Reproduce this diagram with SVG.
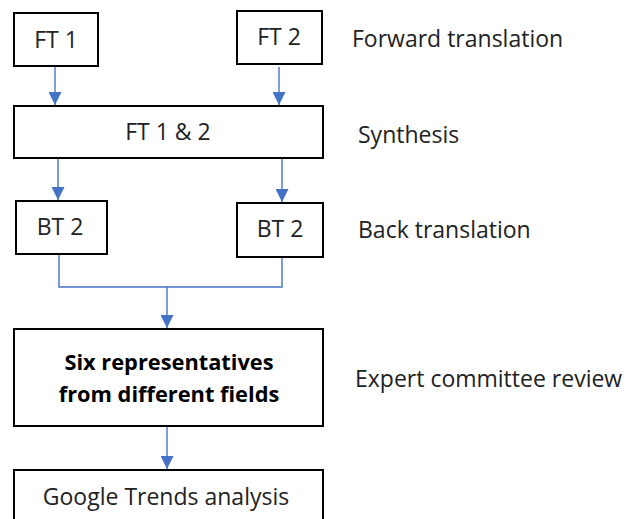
<svg xmlns="http://www.w3.org/2000/svg" width="628" height="519" viewBox="0 0 628 519">
<defs>
<style>
.box{fill:#fff;stroke:#000;stroke-width:2}
.t{font-family:"Open Sans","Noto Sans",sans-serif;font-size:23px;fill:#222;text-anchor:middle}
.b{font-weight:bold;fill:#000;font-size:21.8px}
.lab{font-family:"Open Sans","Noto Sans",sans-serif;font-size:23px;fill:#222}
.c{fill:none;stroke:#4472C4;stroke-width:1.4}
</style>
<marker id="ah" markerUnits="userSpaceOnUse" markerWidth="13" markerHeight="13" refX="13" refY="6.5" orient="auto">
<path d="M0,0 L13,6.5 L0,13 z" fill="#4472C4"/>
</marker>
</defs>
<rect width="628" height="519" fill="#fff"/>
<g id="connectors">
<line class="c" x1="55" y1="66" x2="55" y2="105" marker-end="url(#ah)"/>
<line class="c" x1="279" y1="67" x2="279" y2="105" marker-end="url(#ah)"/>
<line class="c" x1="58" y1="158" x2="58" y2="200" marker-end="url(#ah)"/>
<line class="c" x1="282" y1="158" x2="282" y2="202" marker-end="url(#ah)"/>
<path class="c" d="M59,254 V287 H282 V257"/>
<line class="c" x1="167" y1="287" x2="167" y2="328" marker-end="url(#ah)"/>
<line class="c" x1="167" y1="426" x2="167" y2="469" marker-end="url(#ah)"/>
</g>
<g id="ft1"><rect class="box" x="14" y="13" width="84" height="53"/><text class="t" x="56" y="48">FT 1</text></g>
<g id="ft2"><rect class="box" x="237" y="11" width="85" height="53"/><text class="t" x="279" y="45">FT 2</text></g>
<g id="ft12"><rect class="box" x="14" y="106" width="309" height="52"/><text class="t" x="168" y="140">FT 1 &amp; 2</text></g>
<g id="bt2a"><rect class="box" x="16" y="201" width="91" height="53"/><text class="t" x="60" y="235">BT 2</text></g>
<g id="bt2b"><rect class="box" x="237" y="203" width="86" height="54"/><text class="t" x="280" y="237">BT 2</text></g>
<g id="expert"><rect class="box" x="14" y="329" width="309" height="97"/><text class="t b" x="169" y="370">Six representatives</text><text class="t b" x="169" y="402">from different fields</text></g>
<g id="google"><rect class="box" x="14" y="470" width="309" height="60"/><text class="t" x="166" y="505">Google Trends analysis</text></g>
<g id="labels">
<text class="lab" x="352" y="47">Forward translation</text>
<text class="lab" x="358" y="143">Synthesis</text>
<text class="lab" x="358" y="238">Back translation</text>
<text class="lab" x="355" y="387">Expert committee review</text>
</g>
</svg>
